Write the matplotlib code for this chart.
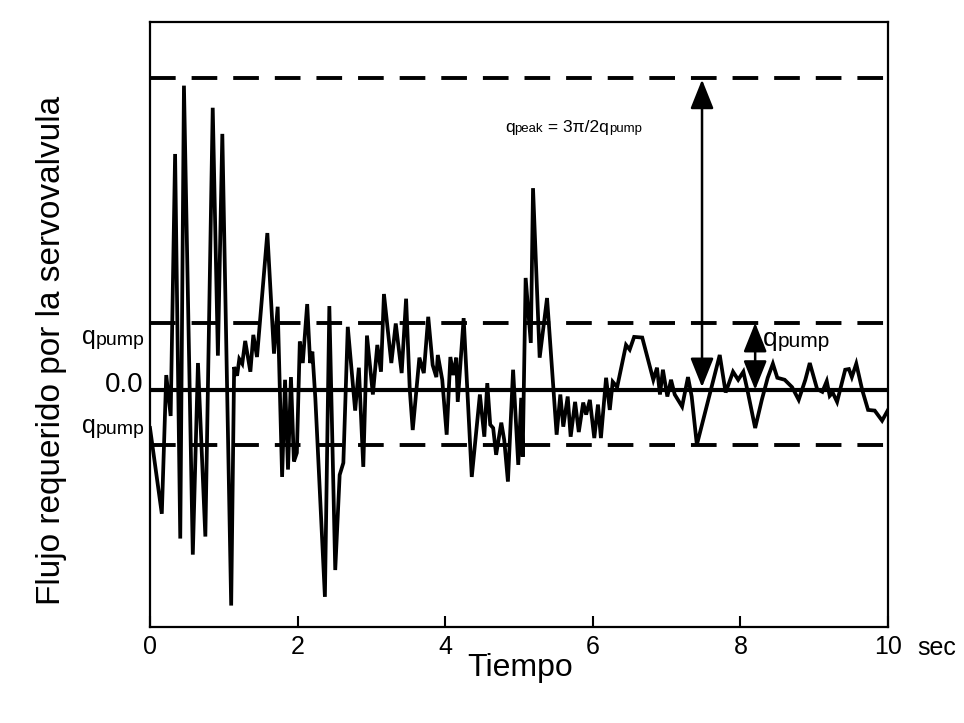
import matplotlib
matplotlib.use("Agg")
import matplotlib.pyplot as plt

###DATA

# time (sec) and flow (in units of q_pump)
t = [0.00, 0.16, 0.22, 0.28, 0.34, 0.41, 0.46, 0.58, 0.65, 0.75,
     0.85, 0.92, 0.98, 1.10, 1.14, 1.18, 1.21, 1.25, 1.29, 1.36,
     1.40, 1.45, 1.59, 1.68, 1.73, 1.79, 1.83, 1.87, 1.91, 1.95,
     1.99, 2.03, 2.07, 2.13, 2.17, 2.20, 2.24, 2.26, 2.37, 2.43,
     2.51, 2.57, 2.62, 2.68, 2.78, 2.83, 2.89, 2.94, 3.02, 3.08,
     3.13, 3.17, 3.27, 3.33, 3.41, 3.47, 3.52, 3.56, 3.65, 3.71,
     3.77, 3.83, 3.88, 3.90, 3.96, 4.02, 4.07, 4.11, 4.15, 4.17,
     4.25, 4.36, 4.47, 4.53, 4.57, 4.61, 4.65, 4.69, 4.76, 4.80,
     4.85, 4.92, 4.99, 5.03, 5.05, 5.09, 5.16, 5.19, 5.28, 5.38,
     5.51, 5.56, 5.60, 5.66, 5.70, 5.76, 5.81, 5.87, 5.91, 5.96,
     6.02, 6.07, 6.11, 6.18, 6.23, 6.27, 6.33, 6.45, 6.50, 6.56,
     6.67, 6.82, 6.87, 6.91, 6.95, 7.01, 7.06, 7.11, 7.21, 7.29,
     7.34, 7.41, 7.72, 7.80, 7.90, 7.97, 8.04, 8.10, 8.20, 8.29,
     8.37, 8.44, 8.50, 8.60, 8.70, 8.79, 8.88, 8.94, 9.04, 9.11,
     9.17, 9.21, 9.25, 9.31, 9.42, 9.47, 9.51, 9.57, 9.65, 9.73,
     9.82, 9.92, 10.00]
q = [-0.57, -1.85, 0.22, -0.39, 3.52, -2.22, 4.54, -2.46, 0.40, -2.19,
     4.21, 0.51, 3.82, -3.22, 0.34, 0.21, 0.46, 0.39, 0.73, 0.27,
     0.82, 0.49, 2.34, 0.54, 1.24, -1.30, 0.15, -1.19, 0.19, -1.07,
     -0.94, 0.72, 0.40, 1.28, 0.40, 0.57, -0.12, -0.57, -3.09, 1.25,
     -2.69, -1.27, -1.09, 0.94, -0.31, 0.33, -1.15, 0.81, -0.07, 0.67,
     0.27, 1.43, 0.40, 0.99, 0.25, 1.36, 0.00, -0.60, 0.48, 0.25,
     1.09, 0.37, 0.19, 0.52, 0.15, -0.67, 0.49, 0.22, 0.48, -0.18,
     1.07, -1.30, -0.07, -0.70, 0.10, -0.52, -0.57, -0.97, -0.49, -0.75,
     -1.37, 0.30, -1.12, -0.12, -1.00, 1.67, 0.70, 3.01, 0.48, 1.37,
     -0.67, -0.07, -0.55, -0.10, -0.70, -0.18, -0.63, -0.19, -0.37, -0.15,
     -0.72, -0.22, -0.72, 0.18, -0.30, 0.12, 0.04, 0.67, 0.60, 0.79,
     0.78, 0.15, 0.33, -0.07, 0.30, -0.10, 0.15, -0.07, -0.25, 0.19,
     -0.10, -0.82, 0.52, -0.04, 0.27, 0.15, 0.27, -0.03, -0.57, -0.15,
     0.18, 0.39, 0.18, 0.15, 0.04, -0.15, 0.15, 0.40, 0.01, -0.03,
     0.13, -0.09, -0.04, -0.18, 0.30, 0.31, 0.19, 0.39, 0.00, -0.30,
     -0.31, -0.46, -0.30]

q_peak = 4.66      # 3pi/2 q_pump line
q_pump = 1.0
q_low = -0.82
xticks = [0, 2, 4, 6, 8, 10]

plain = ['Liberation Sans', 'DejaVu Sans']


def chain(ax, x, y, parts, align='left'):
    """writes text pieces of different sizes one after the other"""
    if align == 'left':
        size, txt = parts[0][1], parts[0][0]
        prev = ax.text(x, y, txt, fontsize=size, family=plain,
                       ha='left', va='baseline')
        for txt, size in parts[1:]:
            prev = ax.annotate(txt, xy=(1, 0), xycoords=prev, fontsize=size,
                               family=plain, ha='left', va='bottom')
    else:
        size, txt = parts[-1][1], parts[-1][0]
        prev = ax.text(x, y, txt, fontsize=size, family=plain,
                       ha='right', va='baseline')
        for txt, size in parts[-2::-1]:
            prev = ax.annotate(txt, xy=(0, 0), xycoords=prev, fontsize=size,
                               family=plain, ha='right', va='bottom')


###PLOT

fig = plt.figure(figsize=(9.64, 7.23), dpi=100)
ax = fig.add_axes([150/964, 1-627/723, 738/964, 605/723])
ax.set_xlim(0, 10)
ax.set_ylim(-3.54, 5.49)

dash = (0, (6.6, 4.1))
for lev in [q_peak, q_pump, q_low]:
    ax.axhline(lev, color='black', lw=2.8, ls=dash, dash_capstyle='butt')
ax.axhline(0, color='black', lw=3.0)

ax.plot(t, q, color='black', lw=2.7, solid_joinstyle='miter')

# arrows
big = dict(arrowstyle='<|-|>,head_length=0.9,head_width=0.36',
           color='black', lw=1.8, mutation_scale=20, shrinkA=0, shrinkB=0)
ax.annotate('', xy=(7.48, q_peak - 0.03), xytext=(7.48, 0.04), arrowprops=big)
ax.annotate('', xy=(8.20, q_pump), xytext=(8.20, 0.0), arrowprops=big)

chain(ax, 8.31, 0.66, [('q', 19), ('pump', 15)])
chain(ax, 4.81, 3.85, [('q', 12.5), ('peak', 9.5), (' = 3\u03c0/2q', 12.5), ('pump', 9.5)])
chain(ax, -0.07, 0.67, [('q', 18), ('pump', 14)], align='right')
chain(ax, -0.07, -0.66, [('q', 18), ('pump', 14)], align='right')
ax.text(-0.09, -0.03, '0.0', fontsize=20, family=plain, ha='right', va='baseline')

ax.set_yticks([])
ax.set_xticks(xticks)
ax.set_xticklabels([str(v) for v in xticks], family=plain, fontsize=18)
ax.tick_params(axis='x', direction='in', length=8, width=1.5, pad=6)
for s in ax.spines.values():
    s.set_linewidth(1.6)

fig.text(520/964, 1-668/723, 'Tiempo', family=plain, fontsize=23,
         ha='center', va='center')
fig.text(937/964, 1-648/723, 'sec', family=plain, fontsize=18,
         ha='center', va='center')
fig.text(52/964, 1-350/723, 'Flujo requerido por la servovalvula',
         family=plain, fontsize=24, rotation=90, ha='center', va='center')

fig.savefig('out.png', dpi=100)
plt.close()
